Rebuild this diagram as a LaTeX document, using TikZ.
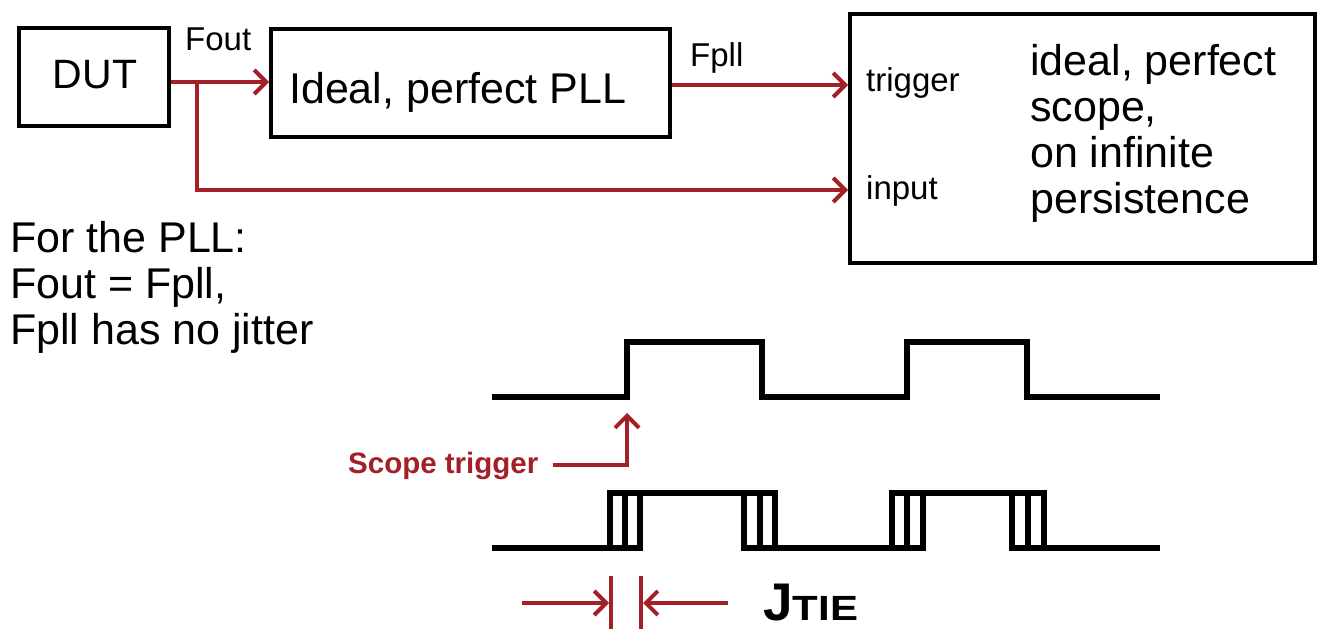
\documentclass[tikz,border=0pt]{standalone}
\usepackage{fontspec}
\setmainfont{Liberation Sans}
\usetikzlibrary{arrows.meta}
\definecolor{jred}{RGB}{163,32,40}
\begin{document}
\begin{tikzpicture}[x=1pt,y=-1pt,line join=miter,
  box/.style={draw=black,line width=4pt,inner sep=0pt,anchor=north west},
  big/.style={font=\fontsize{43}{46}\selectfont,inner sep=0pt,anchor=base west},
  small/.style={font=\fontsize{33}{36}\selectfont,inner sep=0pt,anchor=base west},
  sig/.style={draw=black,line width=5.5pt},
  link/.style={draw=jred,line width=4pt,-{Straight Barb[length=12pt,width=24pt,line width=4pt]}},
  redline/.style={draw=jred,line width=4pt}]
\useasboundingbox (0,0) rectangle (1325,629);
% boxes
\node[box,minimum width=150pt,minimum height=98pt] (dut) at (17,26) {};
\node[box,minimum width=399pt,minimum height=108pt] (pll) at (269,27) {};
\node[box,minimum width=465pt,minimum height=249pt] (scope) at (848,12) {};
% box texts
\node[font=\fontsize{41}{41}\selectfont,inner sep=0pt,anchor=base] (duttxt) at (95,88) {DUT};
\node[big] (plltxt) at (289,103) {Ideal, perfect PLL};
\node[big] (s1) at (1030,75) {ideal, perfect};
\node[big] (s2) at (1030,121) {scope,};
\node[big] (s3) at (1030,167) {on infinite};
\node[big] (s4) at (1030,213) {persistence};
\node[small] (fout) at (185,50) {Fout};
\node[small] (fpll) at (690,66) {Fpll};
\node[small] (trig) at (866,91) {trigger};
\node[small] (inp) at (866,199) {input};
% left text
\node[big] (l1) at (10,252) {For the PLL:};
\node[big] (l2) at (10,298) {Fout = Fpll,};
\node[big] (l3) at (10,344) {Fpll has no jitter};
% connectors
\coordinate (split) at (197,82);
\coordinate (trY) at (0,85);
\coordinate (inY) at (0,190);
\draw[redline] (dut.east |- split) -- (split);
\draw[link] (split) -- (pll.west |- split);
\draw[link] (split) |- (scope.west |- inY);
\draw[link] (pll.east |- trY) -- (scope.west |- trY);
% waveform 1
\draw[sig] (492,397) -- (627,397) -- (627,342) -- (762,342) -- (762,397) -- (907,397) -- (907,342) -- (1027,342) -- (1027,397) -- (1160,397);
% waveform 2 (three overlaid)
\foreach \a/\b/\c/\d in {610/744/892/1012, 625/760/907/1028, 640/775/923/1044}{
  \draw[sig] (492,548) -- (\a,548) -- (\a,493) -- (\b,493) -- (\b,548) -- (\c,548) -- (\c,493) -- (\d,493) -- (\d,548) -- (1160,548);
}
% scope trigger
\node[font=\bfseries\fontsize{29.5}{29.5}\selectfont,text=jred,inner sep=0pt,anchor=base west] (sttxt) at (348,473) {Scope trigger};
\coordinate (trigtip) at (627,413);
\draw[link] ([xshift=14pt]sttxt.east) -| (trigtip);
% JTIE
\coordinate (ja) at (611,576);
\coordinate (jb) at (641,576);
\coordinate (jaend) at (611,629);
\coordinate (jbend) at (641,629);
\draw[redline] (ja) -- (jaend);
\draw[redline] (jb) -- (jbend);
\coordinate (la) at (522,603);
\coordinate (ra) at (728,603);
\draw[link] (la) -- ([xshift=-2pt]ja |- la);
\draw[link] (ra) -- ([xshift=2pt]jb |- ra);
\node[font=\bfseries,inner sep=0pt,text depth=0pt,anchor=base west] (jtie) at (763,620) {\fontsize{53}{53}\selectfont J\fontsize{35}{35}\selectfont\scalebox{1.2}[1]{TIE}};
\end{tikzpicture}
\end{document}
